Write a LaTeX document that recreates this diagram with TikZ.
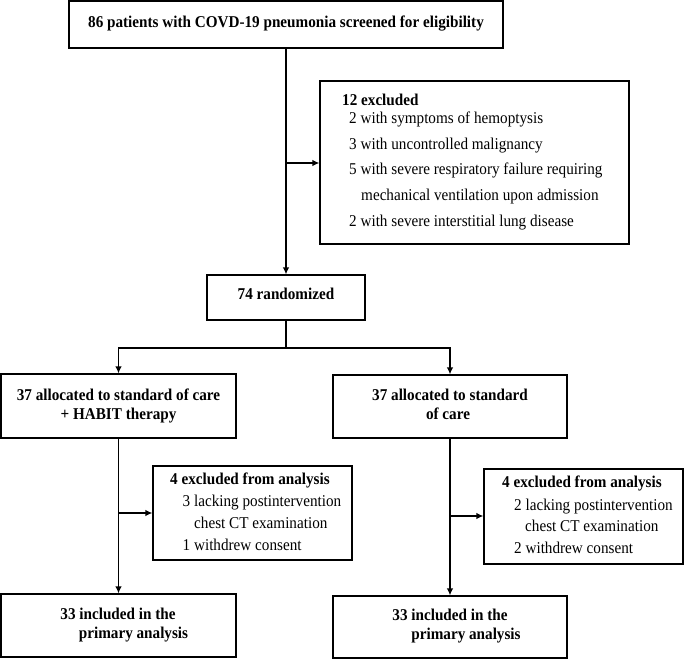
\documentclass[tikz,border=0pt]{standalone}
\usepackage{fontspec}
\setmainfont[FakeStretch=0.92]{Liberation Serif}
\usetikzlibrary{arrows.meta}
\begin{document}
\begin{tikzpicture}[x=1pt,y=-1pt,
  box/.style={draw, line width=1.1pt, inner sep=0, rectangle},
  txt/.style={inner sep=0, text height=0.7em, text depth=0.2em, font=\fontsize{16.5}{18}\selectfont},
  btxt/.style={txt, font=\fontsize{16.5}{18}\selectfont\bfseries},
  conn/.style={line width=1.4pt},
  arr/.style={conn, -{Latex[length=7pt,width=6.5pt]}}]
\useasboundingbox (0,0) rectangle (685,660);
% boxes
\node[box, minimum width=434pt, minimum height=47pt] (top) at (286,24.5) {};
\node[box, minimum width=309pt, minimum height=163pt] (excl) at (474.5,162.5) {};
\node[box, minimum width=158pt, minimum height=45pt] (rand) at (286,297.5) {};
\node[box, minimum width=235pt, minimum height=64pt] (left) at (118.5,406) {};
\node[box, minimum width=234pt, minimum height=63pt] (right) at (450,406.5) {};
\node[box, minimum width=199pt, minimum height=94pt] (exL) at (252.5,513) {};
\node[box, minimum width=199pt, minimum height=95pt] (exR) at (583.5,516.5) {};
\node[box, minimum width=235pt, minimum height=63pt] (botL) at (118.5,625.5) {};
\node[box, minimum width=234pt, minimum height=62pt] (botR) at (450,627) {};
% texts
\node[btxt] (t1) at (286,25) {86 patients with COVD-19 pneumonia screened for eligibility};
\node[btxt, anchor=west] (e0) at (342,103.5) {12 excluded};
\node[txt, anchor=west] (e1) at (349,120.7) {2 with symptoms of hemoptysis};
\node[txt, anchor=west] (e2) at (349,146.7) {3 with uncontrolled malignancy};
\node[txt, anchor=west] (e3) at (349,172.2) {5 with severe respiratory failure requiring};
\node[txt, anchor=west] (e4) at (361,198.3) {mechanical ventilation upon admission};
\node[txt, anchor=west] (e5) at (349,223.7) {2 with severe interstitial lung disease};
\node[btxt] (r1) at (286,297) {74 randomized};
\node[btxt] (l1) at (118.5,397.7) {37 allocated to standard of care};
\node[btxt] (l2) at (118.5,416.7) {+ HABIT therapy};
\node[btxt] (g1) at (450,398) {37 allocated to standard};
\node[btxt] (g2) at (448,417) {of care};
\node[btxt, anchor=west] (a0) at (170,481.7) {4 excluded from analysis};
\node[txt, anchor=west] (a1) at (182.5,504) {3 lacking postintervention};
\node[txt, anchor=west] (a2) at (194,526) {chest CT examination};
\node[txt, anchor=west] (a3) at (182.5,548) {1 withdrew consent};
\node[btxt, anchor=west] (b0) at (502,485) {4 excluded from analysis};
\node[txt, anchor=west] (b1) at (514,507.7) {2 lacking postintervention};
\node[txt, anchor=west] (b2) at (525,529) {chest CT examination};
\node[txt, anchor=west] (b3) at (514,551) {2 withdrew consent};
\node[btxt] (p1) at (118,617) {33 included in the};
\node[btxt] (p2) at (133.5,636) {primary analysis};
\node[btxt] (q1) at (450,618) {33 included in the};
\node[btxt] (q2) at (466,637) {primary analysis};
% connectors
\coordinate (j1) at (286,163);
\coordinate (br) at (286,348);
\coordinate (j2) at (118.5,513);
\coordinate (j3) at (450,516);
\draw[arr] (top.south) -- (rand.north);
\draw[arr] (j1) -- (excl.west |- j1);
\draw[conn] (rand.south) -- (br);
\draw[arr] (br) -| (left.north);
\draw[arr] (br) -| (right.north);
\draw[arr] (left.south) -- (botL.north);
\draw[arr] (j2) -- (exL.west |- j2);
\draw[arr] (right.south) -- (botR.north);
\draw[arr] (j3) -- (exR.west |- j3);
\end{tikzpicture}
\end{document}
